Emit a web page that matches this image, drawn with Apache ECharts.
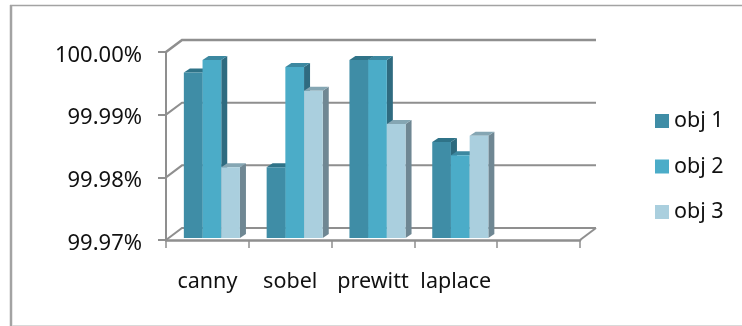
<!DOCTYPE html>
<html lang="en">

<head>
    <meta charset="UTF-8">
    <title>obj chart</title>
    <script src="https://cdn.jsdelivr.net/npm/echarts@6/dist/echarts.min.js"></script>
    <style>
        html, body { margin: 0; padding: 0; background: #fff; }
        #chart { width: 742px; height: 326px; }
    </style>
</head>

<body>
    <div id="chart"></div>

    <script>
        // last category is empty in the original, the plot keeps a free slot
        var categories = ['canny', 'sobel', 'prewitt', 'laplace', ''];
        var seriesNames = ['obj 1', 'obj 2', 'obj 3'];
        var obj1 = [99.9964, 99.9813, 99.9984, 99.9853];
        var obj2 = [99.9984, 99.9973, 99.9984, 99.9832];
        var obj3 = [99.9813, 99.9935, 99.9882, 99.9863];
        var yTicks = [99.97, 99.98, 99.99, 100];

        var frontColors = ['#3f8da6', '#4bacc8', '#aacfde'];
        var topColors = ['#2f7388', '#3c88a0', '#85a6b3'];
        var sideColors = ['#2d6a7e', '#2f6b80', '#6f8793'];
        var lineColor = '#8f8f8f';
        var font = '"Noto Sans"';

        // fake 3D: wall depth and bar depth in pixels
        var wallDx = 16, wallDy = -12;
        var barDx = 6, barDy = -4;
        var barShiftX = 4.5, barShiftY = -2;
        var barWidth = 18.7;

        function poly(points, color) {
            return { type: 'polygon', shape: { points: points }, style: { fill: color } };
        }

        function barSeries(index, values) {
            return {
                name: seriesNames[index],
                type: 'custom',
                z: 5 + index,
                itemStyle: { color: frontColors[index] },
                data: values.map(function (v, i) { return [i, v]; }),
                renderItem: function (params, api) {
                    var top = api.coord([api.value(0), api.value(1)]);
                    var base = api.coord([api.value(0), yTicks[0]]);
                    var left = top[0] + barShiftX + (index - 1.5) * barWidth;
                    var right = left + barWidth;
                    var y0 = top[1] + barShiftY;
                    var y1 = base[1] + barShiftY;
                    return {
                        type: 'group',
                        children: [
                            poly([[right, y0], [right + barDx, y0 + barDy], [right + barDx, y1 + barDy], [right, y1]], sideColors[index]),
                            poly([[left, y0], [left + barDx, y0 + barDy], [right + barDx, y0 + barDy], [right, y0]], topColors[index]),
                            { type: 'rect', shape: { x: left, y: y0, width: barWidth, height: y1 - y0 }, style: { fill: frontColors[index] } }
                        ]
                    };
                }
            };
        }

        // gridlines on the back wall plus the diagonal joining them to the axis
        var wallSeries = {
            type: 'custom',
            z: 1,
            silent: true,
            data: yTicks.map(function (v) { return [0, v]; }),
            renderItem: function (params, api) {
                var start = api.coord([0, api.value(1)]);
                var x0 = start[0] - api.size([1, 0])[0] / 2;
                var x1 = x0 + api.size([1, 0])[0] * categories.length;
                var last = params.dataIndex === yTicks.length - 1;
                var children = [{
                    type: 'polyline',
                    shape: { points: [[x0, start[1]], [x0 + wallDx, start[1] + wallDy], [x1 + wallDx, start[1] + wallDy]] },
                    style: { fill: null, stroke: lineColor, lineWidth: last ? 2.6 : 2 }
                }];
                if (params.dataIndex === 0) {
                    children.push({
                        type: 'line',
                        shape: { x1: x1, y1: start[1], x2: x1 + wallDx, y2: start[1] + wallDy },
                        style: { stroke: lineColor, lineWidth: 2 }
                    });
                }
                return { type: 'group', children: children };
            }
        };

        var chart = echarts.init(document.getElementById('chart'));
        chart.setOption({
            animation: false,
            backgroundColor: '#fff',
            grid: { left: 166, top: 52, width: 414, height: 188 },
            legend: {
                orient: 'vertical',
                left: 650,
                top: 105,
                itemWidth: 14,
                itemHeight: 14,
                itemGap: 23.5,
                icon: 'rect',
                data: seriesNames,
                textStyle: { fontFamily: font, fontSize: 21.5, color: '#111' }
            },
            xAxis: {
                type: 'category',
                data: categories,
                axisLine: { lineStyle: { color: lineColor, width: 2.5 } },
                axisTick: { show: true, length: 8, lineStyle: { color: lineColor, width: 1.5 } },
                axisLabel: { margin: 31, interval: 0, fontFamily: font, fontSize: 21.5, color: '#111' }
            },
            yAxis: {
                type: 'value',
                min: 99.97,
                max: 100,
                interval: 0.01,
                splitLine: { show: false },
                axisLine: { show: true, lineStyle: { color: lineColor, width: 2 } },
                axisTick: { show: true, length: 8, lineStyle: { color: lineColor, width: 2 } },
                axisLabel: {
                    margin: 24,
                    verticalAlign: 'top',
                    lineHeight: 7,
                    fontFamily: font,
                    fontSize: 22,
                    color: '#111',
                    formatter: function (v) { return v.toFixed(2) + '%'; }
                }
            },
            series: [wallSeries, barSeries(0, obj1), barSeries(1, obj2), barSeries(2, obj3)],
            graphic: [
                { type: 'line', silent: true, shape: { x1: 11, y1: 5, x2: 11, y2: 326 }, style: { stroke: '#a3a3a3', lineWidth: 2.5 } },
                { type: 'line', silent: true, shape: { x1: 10, y1: 5.5, x2: 742, y2: 5.5 }, style: { stroke: '#a3a3a3', lineWidth: 1.5 } },
                { type: 'line', silent: true, shape: { x1: 12, y1: 325.5, x2: 742, y2: 325.5 }, style: { stroke: '#d9d9d9', lineWidth: 1 } }
            ]
        });
    </script>
</body>

</html>
